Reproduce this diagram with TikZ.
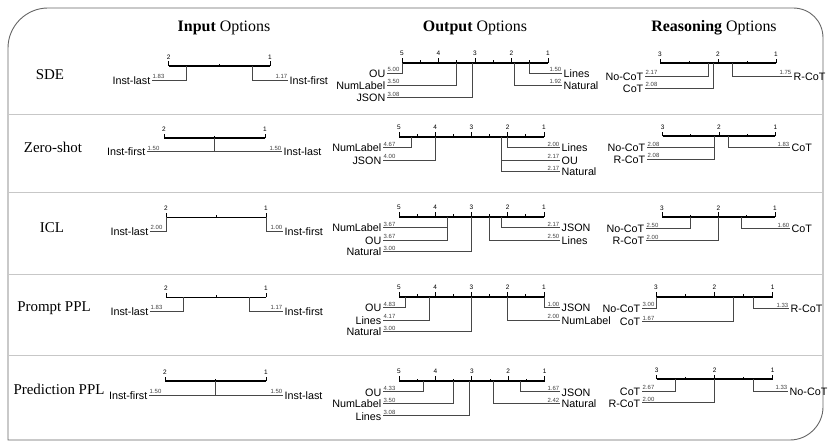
\documentclass[tikz,border=0pt]{standalone}
\usepackage{fontspec}
\setmainfont{Liberation Serif}
\newfontfamily\cdsans{Liberation Sans}
\newcount\cdn
\newcommand\cdpos[1]{\cdxa+(\cdr-(#1))*(\cdxb-\cdxa)/(\cdr-1)}
\newcommand\cdaxis[4]{\def\cdxa{#1}\def\cdxb{#2}\def\cdr{#3}\def\cdy{#4}%
  \global\advance\cdn by 1
  \coordinate (axa\the\cdn) at (#1,#4);
  \coordinate (axb\the\cdn) at (#2,#4);
  \draw[axisline] (axa\the\cdn) -- (axb\the\cdn);
  \foreach \k in {1,...,#3}{%
    \pgfmathsetmacro\tx{\cdpos{\k}}%
    \draw[tickline] (\tx,#4) -- (\tx,#4-4.5);
    \node[ticklab,anchor=base] (tk\the\cdn-\k) at (\tx,#4-6.8) {\k};
  }
  \pgfmathtruncatemacro\cdm{#3-1}%
  \foreach \k in {1,...,\cdm}{%
    \pgfmathsetmacro\tx{\cdpos{\k+0.5}}%
    \draw[tickline] (\tx,#4) -- (\tx,#4-2.2);
  }
}
\newcommand\cdL[4]{%
  \global\advance\cdn by 1
  \coordinate (b\the\cdn) at ({\cdpos{#1}},\cdy);
  \coordinate (e\the\cdn) at (#4,#2);
  \draw[branch] (b\the\cdn) |- (e\the\cdn);
  \node[lab,anchor=base east] (l\the\cdn) at (#4-1.5,#2+4.3) {#3};
  \node[val,anchor=base west] (v\the\cdn) at (#4+0.5,#2-1.3) {#1};
}
\newcommand\cdR[4]{%
  \global\advance\cdn by 1
  \coordinate (b\the\cdn) at ({\cdpos{#1}},\cdy);
  \coordinate (e\the\cdn) at (#4,#2);
  \draw[branch] (b\the\cdn) |- (e\the\cdn);
  \node[lab,anchor=base west] (l\the\cdn) at (#4+1.5,#2+4.3) {#3};
  \node[val,anchor=base east] (v\the\cdn) at (#4-0.5,#2-1.3) {#1};
}
\tikzset{
  frame/.style={draw=black!60, line width=0.9bp},
  sepline/.style={draw=black!22, line width=0.9bp},
  axisline/.style={line width=1.8bp, black},
  tickline/.style={line width=1bp, black},
  branch/.style={draw=black!72, line width=0.75bp},
  lab/.style={font=\cdsans\fontsize{10.8}{12}\selectfont, inner sep=0pt},
  val/.style={font=\cdsans\fontsize{6}{7}\selectfont, inner sep=0pt, text=black!75},
  ticklab/.style={font=\cdsans\fontsize{6.5}{7}\selectfont, inner sep=0pt},
  head/.style={font=\fontsize{16}{18}\selectfont, inner sep=0pt},
  rowlab/.style={font=\fontsize{15}{17}\selectfont, inner sep=0pt},
}
\begin{document}
\begin{tikzpicture}[x=1bp,y=-1bp]
\useasboundingbox (0,0) rectangle (831,447);
% frame
\draw[frame] (8,440) -- (8,48) .. controls (8,26) and (26,8) .. (48,8) -- (793,8)
  .. controls (810,8) and (823,21) .. (823,38) -- (823,407)
  .. controls (823,425) and (808,440) .. (790,440) -- cycle;
% separators
\foreach \yy in {114,192,274,355}{\draw[sepline] (9,\yy) -- (822,\yy);}
% headings
\node[head,anchor=base] (hin) at (224,32) {\textbf{Input} Options};
\node[head,anchor=base] (hout) at (475,32) {\textbf{Output} Options};
\node[head,anchor=base] (hrea) at (714,32) {\textbf{Reasoning} Options};
% row labels
\node[rowlab,anchor=base] (r1) at (50,80) {SDE};
\node[rowlab,anchor=base] (r2) at (53,153) {Zero-shot};
\node[rowlab,anchor=base] (r3) at (52,233) {ICL};
\node[rowlab,anchor=base] (r4) at (54,312) {Prompt PPL};
\node[rowlab,anchor=base] (r5) at (59,394) {Prediction PPL};

% ---------- Input column
\cdaxis{168.7}{270}{2}{66}
\cdL{1.83}{80}{Inst-last}{152}
\cdR{1.17}{80}{Inst-first}{288}

\cdaxis{164}{265}{2}{138.3}
\cdL{1.50}{151.7}{Inst-first}{147}
\cdR{1.50}{151.7}{Inst-last}{282}

\cdaxis{166}{266}{2}{217.5}
\cdL{2.00}{231}{Inst-last}{150}
\cdR{1.00}{231}{Inst-first}{283}

\cdaxis{166}{266}{2}{297.5}
\cdL{1.83}{311}{Inst-last}{150}
\cdR{1.17}{311}{Inst-first}{283}

\cdaxis{165}{266}{2}{381}
\cdL{1.50}{395}{Inst-first}{149}
\cdR{1.50}{395}{Inst-last}{283}

% ---------- Output column
\cdaxis{402}{548}{5}{62.7}
\cdL{5.00}{73.3}{OU}{387}
\cdL{3.50}{85}{NumLabel}{387}
\cdL{3.08}{97.7}{JSON}{387}
\cdR{1.50}{73.3}{Lines}{562}
\cdR{1.92}{85}{Natural}{562}

\cdaxis{399}{544}{5}{136.7}
\cdL{4.67}{147.7}{NumLabel}{383}
\cdL{4.00}{160}{JSON}{383}
\cdR{2.00}{147.7}{Lines}{560}
\cdR{2.17}{160}{OU}{560}
\cdR{2.17}{171.7}{Natural}{560}

\cdaxis{399}{544}{5}{216.7}
\cdL{3.67}{227.7}{NumLabel}{383}
\cdL{3.67}{240}{OU}{383}
\cdL{3.00}{251.7}{Natural}{383}
\cdR{2.17}{227.7}{JSON}{560}
\cdR{2.50}{240}{Lines}{560}

\cdaxis{399}{544}{5}{296.7}
\cdL{4.83}{307.7}{OU}{383}
\cdL{4.17}{320}{Lines}{383}
\cdL{3.00}{331.7}{Natural}{383}
\cdR{1.00}{307.7}{JSON}{560}
\cdR{2.00}{320}{NumLabel}{560}

\cdaxis{399}{544.7}{5}{380.7}
\cdL{4.33}{391.7}{OU}{383}
\cdL{3.50}{403.3}{NumLabel}{383}
\cdL{3.08}{415.7}{Lines}{383}
\cdR{1.67}{391.7}{JSON}{560}
\cdR{2.42}{403.3}{Natural}{560}

% ---------- Reasoning column
\cdaxis{660}{776}{3}{63.3}
\cdL{2.17}{76}{No-CoT}{645}
\cdL{2.08}{88.3}{CoT}{645}
\cdR{1.75}{76}{R-CoT}{792}

\cdaxis{662.7}{775.3}{3}{136.3}
\cdL{2.08}{147.7}{No-CoT}{647}
\cdL{2.08}{159.3}{R-CoT}{647}
\cdR{1.83}{147.7}{CoT}{790}

\cdaxis{662}{775}{3}{217}
\cdL{2.50}{228.5}{No-CoT}{646}
\cdL{2.00}{240.5}{R-CoT}{646}
\cdR{1.60}{228.5}{CoT}{790}

\cdaxis{656}{772.7}{3}{296.7}
\cdL{3.00}{308}{No-CoT}{642}
\cdL{1.67}{321.7}{CoT}{642}
\cdR{1.33}{308.5}{R-CoT}{789}

\cdaxis{656.7}{772.7}{3}{379.3}
\cdL{2.67}{391}{CoT}{642}
\cdL{2.00}{402.7}{R-CoT}{642}
\cdR{1.33}{391}{No-CoT}{788}
\end{tikzpicture}
\end{document}
